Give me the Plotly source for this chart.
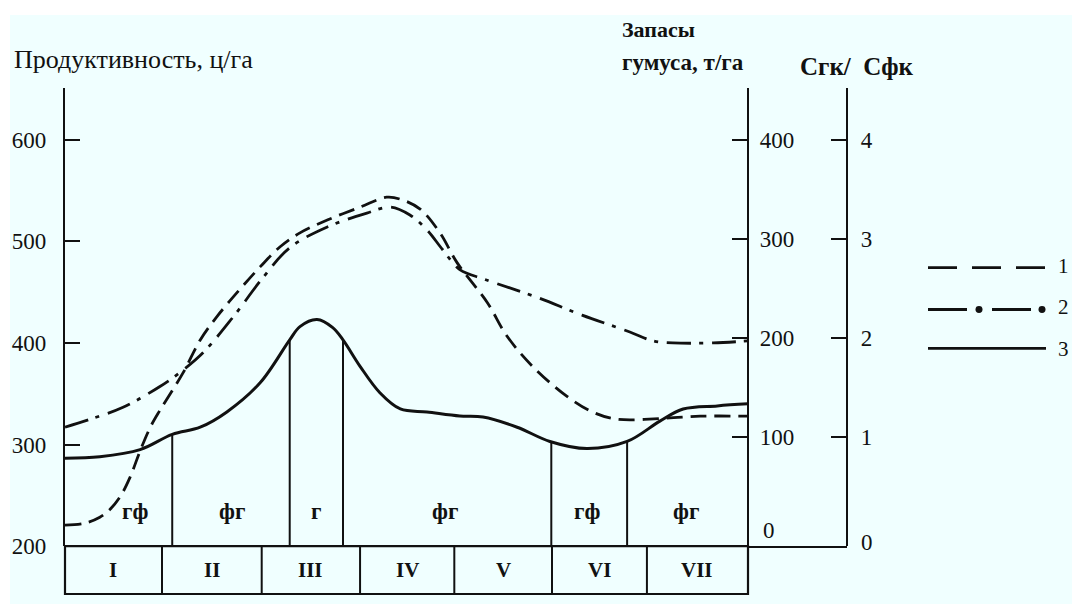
import numpy as np
import plotly.graph_objects as go

W, H = 1072, 604
# height used to convert layout pixel rows into paper fractions
PAPER_H = 592

# Position along the catena (0 = left edge, 100 = right edge of the transect)
pos_prod = [0, 5.1, 11.0, 15.7, 19.8, 23.7, 28.6, 32.9, 34.4, 36.9, 39.2, 40.7, 43.2,
            46.1, 49.1, 53.0, 57.8, 61.2, 66.2, 71.0, 76.4, 82.3, 87.1, 90.5, 95.5, 100]
productivity = [286.5, 288, 295, 310, 317, 332, 361, 403, 416, 423, 415, 403, 377,
                351, 335, 332, 328, 327, 317, 303, 296, 303, 323, 335, 338, 340]

pos_humus = [0, 2.9, 5.1, 6.6, 8.1, 9.5, 11.0, 12.5, 13.9, 17.3, 19.8, 22.3, 25.6,
             28.6, 31.5, 34.4, 38.4, 43.2, 47.1, 49.1, 52.0, 54.9, 57.4, 61.8, 64.7,
             68.5, 73.5, 77.3, 80.8, 88.1, 93.0, 100]
humus = [11, 13, 19, 27, 40, 59, 86, 110, 127, 165, 198, 222, 249,
         272, 292, 306, 319, 332, 342, 340, 330, 306, 276, 236, 202,
         171, 141, 125, 118, 119, 121, 121]

pos_ratio = [0, 3.7, 8.5, 13.9, 16.8, 20.2, 24.6, 29.0, 32.9, 38.4, 44.2, 47.6, 50.5,
             53.0, 55.3, 57.8, 61.5, 69.1, 75.7, 82.7, 86.1, 89.0, 94.9, 100]
ratio = [1.10, 1.18, 1.30, 1.51, 1.65, 1.85, 2.21, 2.61, 2.91, 3.12, 3.26, 3.32, 3.24,
         3.09, 2.89, 2.69, 2.59, 2.41, 2.23, 2.06, 1.97, 1.95, 1.95, 1.97]

# Humus-type zones (boundaries between zones and their labels)
zone_bounds = [15.7, 32.9, 40.7, 71.2, 82.3]
zone_label_pos = [10.3, 24.4, 36.7, 55.6, 76.4, 90.9]
zone_labels = ["гф", "фг", "г", "фг", "гф", "фг"]

# Landscape segments shown in the strip beneath the axis
segment_bounds = [0, 14.2, 28.8, 43.2, 57.0, 71.3, 85.2, 100]
segment_labels = ["I", "II", "III", "IV", "V", "VI", "VII"]

prod_ticks = [200, 300, 400, 500, 600]
humus_ticks = [100, 200, 300, 400]
ratio_ticks = [1, 2, 3, 4]

FONT = "Liberation Serif"
INK = "#111111"


def px(p):
    return p / W


def py(p):
    return 1 - p / PAPER_H


plot_x0, plot_x1 = 65, 748
axis3_x = 847
base_y, top_y, strip_y = 547, 88, 595

fig = go.Figure()

fig.add_trace(go.Scatter(x=pos_humus, y=humus, yaxis="y2", mode="lines",
                         line=dict(color=INK, width=2.8, dash="16px,8px",
                                   shape="spline", smoothing=1.0),
                         showlegend=False, hoverinfo="skip"))
fig.add_trace(go.Scatter(x=pos_ratio, y=ratio, yaxis="y3", mode="lines",
                         line=dict(color=INK, width=2.8, dash="24px,8px,4px,9px",
                                   shape="spline", smoothing=1.0),
                         showlegend=False, hoverinfo="skip"))
fig.add_trace(go.Scatter(x=pos_prod, y=productivity, yaxis="y", mode="lines",
                         line=dict(color=INK, width=3, shape="spline", smoothing=1.0),
                         showlegend=False, hoverinfo="skip"))

shapes = []
# page background
shapes.append(dict(type="rect", xref="paper", yref="paper", x0=px(10), x1=1.01,
                   y0=py(640), y1=py(15), fillcolor="#F0FFFF", line=dict(width=0),
                   layer="below"))

# zone boundaries rise from the base line up to the productivity curve
for b in zone_bounds:
    top = float(np.interp(b, pos_prod, productivity))
    shapes.append(dict(type="line", xref="x", yref="y", x0=b, x1=b, y0=200, y1=top,
                       line=dict(color=INK, width=2)))

# segment strip
shapes.append(dict(type="rect", xref="paper", yref="paper", x0=px(plot_x0), x1=px(plot_x1),
                   y0=py(strip_y), y1=py(base_y), line=dict(color=INK, width=2.2)))
for b in segment_bounds[1:-1]:
    shapes.append(dict(type="line", xref="x", yref="paper", x0=b, x1=b,
                       y0=py(strip_y), y1=py(base_y), line=dict(color=INK, width=2)))

# base of the ratio axis
shapes.append(dict(type="line", xref="paper", yref="paper", x0=px(plot_x1), x1=px(axis3_x),
                   y0=py(548), y1=py(548), line=dict(color=INK, width=2)))

# key
kx0, kx1 = px(928), px(1046)
shapes.append(dict(type="line", xref="paper", yref="paper", x0=kx0, x1=kx1,
                   y0=py(268), y1=py(268), line=dict(color=INK, width=2.8, dash="29px,15px")))
shapes.append(dict(type="line", xref="paper", yref="paper", x0=kx0, x1=kx1,
                   y0=py(310), y1=py(310), line=dict(color=INK, width=2.8, dash="39px,25px")))
for cx in (979, 1042):
    shapes.append(dict(type="circle", xref="paper", yref="paper",
                       x0=px(cx - 3.5), x1=px(cx + 3.5), y0=py(313.5), y1=py(306.5),
                       fillcolor=INK, line=dict(width=0)))
shapes.append(dict(type="line", xref="paper", yref="paper", x0=kx0, x1=kx1,
                   y0=py(349), y1=py(349), line=dict(color=INK, width=2.8)))


def font(size):
    return dict(family=FONT, size=size, color=INK)


annotations = []
for xp, lab in zip(zone_label_pos, zone_labels):
    annotations.append(dict(x=xp, y=py(512), xref="x", yref="paper", text=f"<b>{lab}</b>",
                            showarrow=False, font=font(23), xanchor="center", yanchor="middle"))
for i, lab in enumerate(segment_labels):
    c = (segment_bounds[i] + segment_bounds[i + 1]) / 2
    annotations.append(dict(x=c, y=py(571), xref="x", yref="paper", text=f"<b>{lab}</b>",
                            showarrow=False, font=font(21), xanchor="center", yanchor="middle"))

annotations += [
    dict(x=px(12), y=py(60), xref="paper", yref="paper", text="Продуктивность, ц/га",
         showarrow=False, font=font(26), xanchor="left", yanchor="middle"),
    dict(x=px(620), y=py(30), xref="paper", yref="paper", text="<b>Запасы</b>",
         showarrow=False, font=font(22), xanchor="left", yanchor="middle"),
    dict(x=px(620), y=py(63), xref="paper", yref="paper", text="<b>гумуса, т/га</b>",
         showarrow=False, font=font(23), xanchor="left", yanchor="middle"),
    dict(x=px(798), y=py(67), xref="paper", yref="paper", text="<b>Сгк/  Сфк</b>",
         showarrow=False, font=font(25), xanchor="left", yanchor="middle"),
    dict(x=px(769), y=py(531), xref="paper", yref="paper", text="0",
         showarrow=False, font=font(23), xanchor="center", yanchor="middle"),
    dict(x=px(867), y=py(543), xref="paper", yref="paper", text="0",
         showarrow=False, font=font(23), xanchor="center", yanchor="middle"),
]
for lab, yy in zip(["1", "2", "3"], [266, 308, 350]):
    annotations.append(dict(x=px(1056), y=py(yy), xref="paper", yref="paper", text=lab,
                            showarrow=False, font=font(21), xanchor="left", yanchor="middle"))

# axis scales: productivity 200..600 -> 547..140 px, humus/ratio 0 -> 537 px, 400/4 -> 140 px
k_prod = (547 - 140) / 400
k_hum = (537 - 140) / 400
prod_range = [200, 200 + (base_y - top_y) / k_prod]
hum_range = [(537 - base_y) / k_hum, (537 - top_y) / k_hum]
ratio_range = [v / 100 for v in hum_range]
dom = [py(base_y), py(top_y)]

axis_common = dict(showgrid=False, zeroline=False, showline=True, linecolor=INK,
                   linewidth=2.4, ticks="inside", ticklen=15, tickwidth=2.2,
                   tickcolor=INK, tickfont=font(23))

fig.update_layout(
    width=W, height=H, margin=dict(l=0, r=0, t=0, b=0),
    paper_bgcolor="white", plot_bgcolor="rgba(0,0,0,0)",
    xaxis=dict(domain=[px(plot_x0), px(plot_x1)], range=[0, 100], visible=False),
    yaxis=dict(domain=dom, range=prod_range, tickvals=prod_ticks,
               ticklabelstandoff=12, **axis_common),
    yaxis2=dict(domain=dom, range=hum_range, tickvals=humus_ticks, overlaying="y",
                anchor="free", position=px(plot_x1), side="right",
                ticklabelstandoff=6, **axis_common),
    yaxis3=dict(domain=dom, range=ratio_range, tickvals=ratio_ticks, overlaying="y",
                anchor="free", position=px(axis3_x), side="right",
                ticklabelstandoff=8, **axis_common),
    shapes=shapes, annotations=annotations,
)

fig.write_html("out.html")
